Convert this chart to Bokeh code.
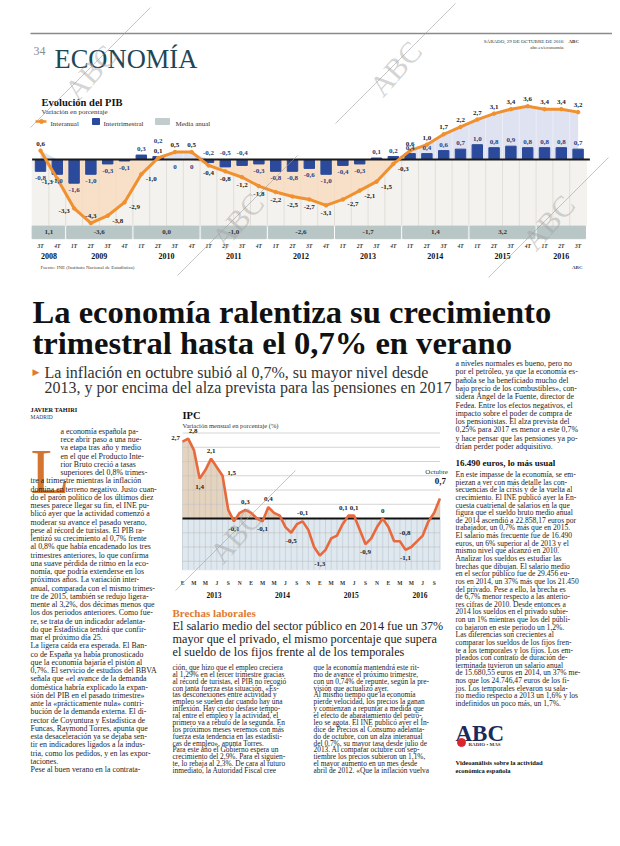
import numpy as np
from bokeh.plotting import figure
from bokeh.models import Range1d, ColumnDataSource
from bokeh.core.properties import value
from bokeh.embed import file_html
from bokeh.resources import INLINE

SERIF = "Liberation Serif"
SANS = "Liberation Sans"

# ---------------- PIB data ----------------
pib_quarters = ["3T", "4T"] + ["1T", "2T", "3T", "4T"] * 7 + ["1T", "2T", "3T"]
pib_years = ["2008"] * 2 + [str(y) for y in range(2009, 2016) for _ in range(4)] + ["2016"] * 3
interanual = [0.6, -1.3, -3.3, -4.3, -3.8, -2.9, -1.0, 0.1, 0.5, 0.5, -0.4, -0.8, -1.2, -1.8,
              -2.2, -2.5, -2.7, -3.1, -2.7, -2.1, -1.5, -0.3, 0.6, 1.0, 1.7, 2.2, 2.7, 3.1,
              3.4, 3.6, 3.4, 3.4, 3.2]
intertrimestral = [-0.8, -1.0, -1.6, -1.0, -0.3, -0.1, 0.3, 0.2, 0.0, 0.0, -0.2, -0.5, -0.4, -0.3,
                   -0.8, -0.8, -0.6, -1.0, -0.4, -0.3, 0.1, 0.2, 0.4, 0.4, 0.6, 0.7, 1.0, 0.8,
                   0.9, 0.8, 0.8, 0.8, 0.7]
media_years = ["2008", "2009", "2010", "2011", "2012", "2013", "2014", "2015", "2016"]
media_anual = ["1,1", "-3,6", "0,0", "-1,0", "-2,6", "-1,7", "1,4", "3,2", ""]
# label placement codes (a=above, b=below, l=left, r=right, t=above axis, h=high above)
line_label_pos = ["a", "l", "l", "a", "r", "r", "r", "a", "a", "a"] + ["b"] * 8 + ["r"] * 4 + ["a"] * 11
bar_label_pos = ["b", "b", "b", "b", "b", "b", "a", "h", "b", "b", "t", "t", "t"] + ["b"] * 7 + ["a"] * 13

# ---------------- IPC data ----------------
ipc_month_letters = ["E", "M", "M", "J", "S", "N"]
ipc_years = ["2013", "2014", "2015", "2016"]
ipc = [2.7, 2.8, 2.4, 1.4, 1.7, 2.1, 1.8, 1.5, 0.3, -0.1, 0.2, 0.3,
       0.2, 0.0, -0.1, 0.4, 0.2, 0.1, -0.3, -0.5, -0.2, -0.1, -0.4, -1.0,
       -1.3, -1.1, -0.7, -0.6, -0.2, 0.1, 0.1, -0.4, -0.9, -0.7, -0.3, 0.0,
       -0.3, -0.8, -0.8, -1.1, -1.0, -0.8, -0.6, -0.1, 0.2, 0.7]
ipc_labels = {0: "l", 1: "ar", 3: "b", 5: "a", 7: "r", 9: "b", 11: "a", 14: "b", 15: "a",
              19: "b", 21: "a", 24: "b", 29: "al", 30: "a", 32: "b", 35: "a", 38: "ar", 39: "b"}
ipc_grid = [-1.5, -1.0, -0.5, 0.5, 1.0, 1.5, 2.0, 2.5, 3.0]


def fmt(v):
    return "0" if v == 0 else f"{v:.1f}".replace(".", ",")


# ---------------- page figure ----------------
W, H = 612, 838
p = figure(width=W, height=H, x_range=Range1d(0, W), y_range=Range1d(H, 0),
           output_backend="svg", toolbar_location=None, min_border=0,
           x_axis_location=None, y_axis_location=None)
p.outline_line_color = None
p.grid.visible = False
p.background_fill_color = "white"
p.border_fill_color = "white"


def lin_range(va, pa, vb, pb, plo, phi):
    k = (vb - va) / (pb - pa)
    return Range1d(start=va + (plo - pa) * k, end=va + (phi - pa) * k)


# PIB: quarter i at x=40+16.8 i ; value 0 at y=159, 14.8 px per point
p.extra_x_ranges["pibx"] = lin_range(0, 40, 1, 56.8, 0, W)
p.extra_y_ranges["piby"] = lin_range(0, 159, 1, 159 - 14.8, H, 0)
# IPC: month m at x=182+5.72 m ; value 0 at y=518, 28.5 px per point
p.extra_x_ranges["ipcx"] = lin_range(0, 182, 1, 187.72, 0, W)
p.extra_y_ranges["ipcy"] = lin_range(0, 518, 1, 518 - 28.5, H, 0)
PIB = dict(x_range_name="pibx", y_range_name="piby")
IPC = dict(x_range_name="ipcx", y_range_name="ipcy")


def txt(x, y, t, size, font=SERIF, color="#222222", style="normal", align="left",
        baseline="alphabetic", angle=0, alpha=1.0, **kw):
    xs = x if isinstance(x, (list, np.ndarray)) else [x]
    ys = y if isinstance(y, (list, np.ndarray)) else [y]
    ts = t if isinstance(t, list) else [t]
    p.text(x=list(xs), y=list(ys), text=ts, text_font=value(font), text_font_size=value(f"{size}px"),
           text_color=color, text_font_style=style, text_align=align, text_baseline=baseline,
           angle=angle, text_alpha=alpha, **kw)


def block(lines, x, y0, y1, size=7.9, font=SERIF, color="#1e1e1e", style="normal"):
    n = len(lines)
    ys = [y0 + (y1 - y0) * i / (n - 1) for i in range(n)] if n > 1 else [y0]
    txt([x] * n, ys, lines, size, font=font, color=color, style=style)


# ---------------- page header ----------------
p.segment(x0=[30], y0=[33], x1=[612], y1=[33], line_color="#8a8a8a", line_width=1.5)
txt(33, 50, "34", 12, color="#8c8c8c")
txt(54, 58, "ECONOMÍA", 26.5, color="#1d4757")
txt(563, 41, "SÁBADO, 29 DE OCTUBRE DE 2016", 5, color="#333333", align="right")
txt(568, 41, "ABC", 5, color="#333333", style="bold")
txt(563, 47, "abc.es/economia", 5, color="#333333", align="right")

# ---------------- PIB chart ----------------
txt(41, 102, "Evolución del PIB", 10.5, style="bold", color="#111111")
txt(41, 111, "Variación en porcentaje", 7, color="#333333")
# legend
p.line(x=[35, 46], y=[121, 121], line_color="#f0902f", line_width=2.5)
p.scatter(x=[41], y=[121], size=4, color="#f0902f")
txt(50, 123.5, "Interanual", 7, color="#333333")
p.quad(left=[92], right=[99], top=[118], bottom=[124], color="#2b4a9b")
txt(103, 123.5, "Intertrimestral", 7, color="#333333")
p.quad(left=[155], right=[169], top=[118], bottom=[124], color="#c2cccc")
txt(175, 123.5, "Media anual", 7, color="#333333")

qi = np.arange(len(interanual))
ia = np.array(interanual)
it = np.array(intertrimestral)
band_top, band_bot = -4.5, -5.35
# light background + vertical quarter lines
p.quad(left=[-0.5], right=[len(qi) - 0.5], top=[0], bottom=[band_top], color="#f4f2ee", **PIB)
mid = (ia[:-1] + ia[1:]) / 2
p.segment(x0=qi[:-1] + 0.5, y0=[band_top] * (len(qi) - 1), x1=qi[:-1] + 0.5,
          y1=np.maximum(mid, 0), line_color="#e2ded8", line_width=1, **PIB)
# area fills between line and zero
p.varea(x=qi, y1=np.zeros(len(qi)), y2=np.minimum(ia, 0), fill_color="#f7dcc1", fill_alpha=0.85, **PIB)
p.varea(x=qi, y1=np.zeros(len(qi)), y2=np.maximum(ia, 0), fill_color="#dcdff0", fill_alpha=0.9, **PIB)
p.segment(x0=qi[:-1] + 0.5, y0=[0] * (len(qi) - 1), x1=qi[:-1] + 0.5,
          y1=np.maximum(mid, 0), line_color="#eceef6", line_width=1, **PIB)
# bars
p.vbar(x=qi, top=np.maximum(it, 0), bottom=np.minimum(it, 0), width=0.62, color="#2b4a9b", **PIB)
# zero line
p.segment(x0=[-0.5], y0=[0], x1=[len(qi) - 0.3], y1=[0], line_color="#1a1a1a", line_width=2, **PIB)
# line
p.line(x=qi, y=ia, line_color="#f0902f", line_width=3, **PIB)
p.scatter(x=qi, y=ia, size=3.5, color="#f0902f", **PIB)

# labels
off = {"a": (0, -7), "b": (0, 8), "l": (-10, 3), "r": (10, 5)}
src = ColumnDataSource(dict(x=qi, y=ia, t=[fmt(v) for v in ia],
                            xo=[off[c][0] for c in line_label_pos], yo=[off[c][1] for c in line_label_pos]))
p.text(x="x", y="y", text="t", x_offset="xo", y_offset="yo", source=src, text_align="center",
       text_baseline="middle", text_font=value(SERIF), text_font_style="bold",
       text_font_size=value("7px"), text_color="#222222", **PIB)
by, bo = [], []
for v, c in zip(it, bar_label_pos):
    if c == "a":
        by.append(v); bo.append(-6)
    elif c == "h":
        by.append(v); bo.append(-16)
    elif c == "t":
        by.append(0); bo.append(-7)
    else:
        by.append(min(v, 0)); bo.append(7)
src2 = ColumnDataSource(dict(x=qi, y=by, t=[fmt(v) for v in it], yo=bo))
p.text(x="x", y="y", text="t", y_offset="yo", source=src2, text_align="center",
       text_baseline="middle", text_font=value(SERIF), text_font_style="bold",
       text_font_size=value("7px"), text_color="#2b3f80", **PIB)

# media anual band
yrs = np.array(pib_years)
lefts, rights, centers = [], [], []
for y in media_years:
    idx = qi[yrs == y]
    lefts.append(idx.min() - 0.44)
    rights.append(idx.max() + 0.44)
    centers.append(idx.mean())
lefts[0] = -0.5
p.quad(left=lefts, right=rights, top=[band_top] * len(lefts), bottom=[band_bot] * len(lefts),
       color="#b9c6c6", **PIB)
p.text(x=centers, y=[(band_top + band_bot) / 2] * len(centers), text=media_anual, text_align="center",
       text_baseline="middle", text_font=value(SERIF), text_font_style="bold",
       text_font_size=value("7px"), text_color="#333333", **PIB)
# quarter & year labels
p.text(x=qi, y=[-5.85] * len(qi), text=pib_quarters, text_align="center", text_baseline="alphabetic",
       text_font=value(SERIF), text_font_style="bold italic", text_font_size=value("5.5px"),
       text_color="#333333", **PIB)
p.text(x=centers, y=[-6.5] * len(centers), text=media_years, text_align="center",
       text_baseline="alphabetic", text_font=value(SERIF), text_font_style="bold",
       text_font_size=value("8px"), text_color="#111111", **PIB)
txt(40, 267, "Fuente: INE (Instituto Nacional de Estadística)", 5, color="#444444")
txt(582, 267, "ABC", 5, color="#444444", style="bold", align="right")

# ---------------- headline ----------------
txt(32, 311, "La economía ralentiza su crecimiento", 32.6, style="bold", color="#111111")
txt(32, 342, "trimestral hasta el 0,7% en verano", 32.6, style="bold", color="#111111")
txt(32, 371, "▶", 9, font="DejaVu Sans", color="#e07b2f")
txt(44, 372, "La inflación en octubre subió al 0,7%, su mayor nivel desde", 16, color="#333333")
txt(44, 387, "2013, y por encima del alza prevista para las pensiones en 2017", 16, color="#333333")

# ---------------- column 1 ----------------
txt(30, 409, "JAVIER TAHIRI", 6.3, style="bold", color="#111111")
txt(30, 416, "MADRID", 5.5, color="#333333")
txt(30, 471, "L", 64, color="#d47630")
col1_drop = ["a economía española pa-", "rece abrir paso a una nue-", "va etapa tras año y medio",
             "en el que el Producto Inte-", "rior Bruto creció a tasas", "superiores del 0,8% trimes-"]
col1 = ["tre a trimestre mientras la inflación", "domina en terreno negativo. Justo cuan-",
        "do el parón político de los últimos diez", "meses parece llegar su fin, el INE pu-",
        "blicó ayer que la actividad comenzó a", "moderar su avance el pasado verano,",
        "pese al récord de turistas. El PIB ra-", "lentizó su crecimiento al 0,7% frente",
        "al 0,8% que había encadenado los tres", "trimestres anteriores, lo que confirma",
        "una suave pérdida de ritmo en la eco-", "nomía, que podría extenderse en los",
        "próximos años. La variación inter-", "anual, comparada con el mismo trimes-",
        "tre de 2015, también se redujo ligera-", "mente al 3,2%, dos décimas menos que",
        "los dos periodos anteriores. Como fue-", "re, se trata de un indicador adelanta-",
        "do que Estadística tendrá que confir-", "mar el próximo día 25.",
        "   La ligera caída era esperada. El Ban-", "co de España ya había pronosticado",
        "que la economía bajaría el pistón al", "0,7%. El servicio de estudios del BBVA",
        "señala que «el avance de la demanda", "doméstica habría explicado la expan-",
        "sión del PIB en el pasado trimestre»", "ante la «prácticamente nula» contri-",
        "bución de la demanda externa. El di-", "rector de Coyuntura y Estadística de",
        "Funcas, Raymond Torres, apunta que", "esta desaceleración ya se dejaba sen-",
        "tir en indicadores ligados a la indus-", "tria, como los pedidos, y en las expor-",
        "taciones.", "   Pese al buen verano en la contrata-"]
sp1 = (769 - 431) / (len(col1_drop) + len(col1) - 1)
block(col1_drop, 60, 431, 431 + sp1 * 5)
block(col1, 30, 431 + sp1 * 6, 769)

# ---------------- IPC chart ----------------
txt(182, 415, "IPC", 10.5, style="bold", color="#111111")
txt(182, 425, "Variación mensual en porcentaje (%)", 6.5, color="#333333")
mi = np.arange(len(ipc))
iv = np.array(ipc)
p.quad(left=[0], right=[len(ipc) - 1], top=[0], bottom=[-1.8], color="#dfe8ee", **IPC)
p.varea(x=mi, y1=np.zeros(len(mi)), y2=np.maximum(iv, 0), fill_color="#e6d3bd", **IPC)
p.segment(x0=[0] * len(ipc_grid), y0=ipc_grid, x1=[len(ipc) - 1] * len(ipc_grid), y1=ipc_grid,
          line_color="#c9c9c9", line_width=0.8, **IPC)
p.segment(x0=mi, y0=[-1.8] * len(mi), x1=mi, y1=np.maximum(iv, 0), line_color="#aab6c0",
          line_width=0.6, line_alpha=0.7, **IPC)
p.segment(x0=[0], y0=[0], x1=[len(ipc) - 1], y1=[0], line_color="#111111", line_width=2, **IPC)
p.line(x=mi, y=iv, line_color="#e8693c", line_width=2.6, **IPC)
ioff = {"a": (0, -8), "b": (0, 8), "l": (-7, -4), "r": (9, -3), "ar": (5, -8), "al": (-5, -8)}
ik = sorted(ipc_labels)
src3 = ColumnDataSource(dict(x=ik, y=[ipc[k] for k in ik], t=[fmt(ipc[k]) for k in ik],
                             xo=[ioff[ipc_labels[k]][0] for k in ik], yo=[ioff[ipc_labels[k]][1] for k in ik]))
p.text(x="x", y="y", text="t", x_offset="xo", y_offset="yo", source=src3, text_align="center",
       text_baseline="middle", text_font=value(SERIF), text_font_style="bold",
       text_font_size=value("7px"), text_color="#222222", **IPC)
last = len(ipc) - 1
p.text(x=[last], y=[ipc[last]], text=["Octubre"], x_offset=[8], y_offset=[-27], text_align="right",
       text_baseline="alphabetic", text_font=value(SERIF), text_font_size=value("7px"),
       text_color="#333333", **IPC)
p.text(x=[last], y=[ipc[last]], text=[fmt(ipc[last])], x_offset=[6], y_offset=[-18], text_align="right",
       text_baseline="alphabetic", text_font=value(SERIF), text_font_style="bold",
       text_font_size=value("9px"), text_color="#111111", **IPC)
ml = np.arange(0, len(ipc) - 1, 2)
p.text(x=ml, y=[-2.25] * len(ml), text=[ipc_month_letters[(m % 12) // 2] for m in ml], text_align="center",
       text_baseline="alphabetic", text_font=value(SERIF), text_font_style="bold",
       text_font_size=value("5.5px"), text_color="#333333", **IPC)
p.text(x=[12 * k + 5.5 for k in range(len(ipc_years))], y=[-2.68] * len(ipc_years), text=ipc_years,
       text_align="center", text_baseline="alphabetic", text_font=value(SERIF), text_font_style="bold",
       text_font_size=value("7.5px"), text_color="#111111", **IPC)

# ---------------- Brechas laborales ----------------
txt(172, 612, "Brechas laborales", 11, style="bold", color="#e07a30")
txt(172, 625, "El salario medio del sector público en 2014 fue un 37%", 12.2, color="#222222")
txt(172, 638, "mayor que el privado, el mismo porcentaje que supera", 12.2, color="#222222")
txt(172, 651, "el sueldo de los fijos frente al de los temporales", 12.2, color="#222222")

col2 = ["ción, que hizo que el empleo creciera", "al 1,29% en el tercer trimestre gracias",
        "al récord de turistas, el PIB no recogió", "con tanta fuerza esta situación. «Es-",
        "tas desconexiones entre actividad y", "empleo se suelen dar cuando hay una",
        "inflexión. Hay cierto desfase tempo-", "ral entre el empleo y la actividad, el",
        "primero va a rebufo de la segunda. En", "los próximos meses veremos con más",
        "fuerza esta tendencia en las estadísti-", "cas de empleo», apunta Torres.",
        "   Para este año el Gobierno espera un", "crecimiento del 2,9%. Para el siguien-",
        "te, lo rebaja al 2,3%. De cara al futuro", "inmediato, la Autoridad Fiscal cree"]
col3 = ["que la economía mantendrá este rit-", "mo de avance el próximo trimestre,",
        "con un 0,74% de repunte, según la pre-", "visión que actualizó ayer.",
        "   Al mismo tiempo que la economía", "pierde velocidad, los precios la ganan",
        "y comienzan a repuntar a medida que", "el efecto de abaratamiento del petró-",
        "leo se agota. El INE publicó ayer el Ín-", "dice de Precios al Consumo adelanta-",
        "do de octubre, con un alza interanual", "del 0,7%, su mayor tasa desde julio de",
        "2013. Al comparar octubre con sep-", "tiembre los precios subieron un 1,1%,",
        "el mayor aumento en un mes desde", "abril de 2012. «Que la inflación vuelva"]
block(col2, 172, 667, 770, size=7.4)
block(col3, 313, 667, 770, size=7.4)

# ---------------- column 4 ----------------
col4a = ["a niveles normales es bueno, pero no", "por el petróleo, ya que la economía es-",
         "pañola se ha beneficiado mucho del", "bajo precio de los combustibles», con-",
         "sidera Ángel de la Fuente, director de", "Fedea. Entre los efectos negativos, el",
         "impacto sobre el poder de compra de", "los pensionistas. El alza prevista del",
         "0,25% para 2017 es menor a este 0,7%", "y hace pensar que las pensiones ya po-",
         "drían perder poder adquisitivo."]
col4b = ["En este impasse de la economía, se em-", "piezan a ver con más detalle las con-",
         "secuencias de la crisis y de la vuelta al", "crecimiento. El INE publicó ayer la En-",
         "cuesta cuatrienal de salarios en la que", "figura que el sueldo bruto medio anual",
         "de 2014 ascendió a 22.858,17 euros por", "trabajador, un 0,7% más que en 2015.",
         "El salario más frecuente fue de 16.490", "euros, un 6% superior al de 2013 y el",
         "mismo nivel que alcanzó en 2010.", "   Analizar los sueldos es estudiar las",
         "brechas que dibujan. El salario medio", "en el sector público fue de 29.456 eu-",
         "ros en 2014, un 37% más que los 21.450", "del privado. Pese a ello, la brecha es",
         "de 6,7% menor respecto a las anterio-", "res cifras de 2010. Desde entonces a",
         "2014 los sueldos en el privado subie-", "ron un 1% mientras que los del públi-",
         "co bajaron en este periodo un 1,2%.", "   Las diferencias son crecientes al",
         "comparar los sueldos de los fijos fren-", "te a los temporales y los fijos. Los em-",
         "pleados con contrato de duración de-", "terminada tuvieron un salario anual",
         "de 15.680,55 euros en 2014, un 37% me-", "nos que los 24.746,47 euros de los fi-",
         "jos. Los temporales elevaron su sala-", "rio medio respecto a 2013 un 1,6% y los",
         "indefinidos un poco más, un 1,7%."]
block(col4a, 455, 363, 446)
txt(455, 462, "16.490 euros, lo más usual", 9, style="bold", color="#111111")
block(col4b, 455, 474, 703, size=7.6)

# ABC box
txt(455, 733, "ABC", 23, style="bold", color="#1b2a5c")
p.scatter(x=[461], y=[742], size=8, color="#d8262b")
txt(468, 744, "RADIO • MAS", 5, style="bold", color="#333333")
txt(455, 762, "Videoanálisis sobre la actividad", 6.5, style="bold", color="#111111")
txt(455, 770, "económica española", 6.5, style="bold", color="#111111")

# ---------------- watermarks ----------------
wm = [(90, 72), (395, 68), (237, 220), (548, 222), (235, 535)]
for (wx, wy) in wm:
    p.segment(x0=[wx - 60], y0=[wy + 55], x1=[wx + 60], y1=[wy - 65], line_color="#9a9a9a",
              line_width=0.8, line_alpha=0.7)
    txt(wx, wy, "ABC", 30, color="#a0a0a0", align="center", baseline="middle", angle=0.85, alpha=0.45)

open("out.html", "w").write(file_html(p, INLINE))
